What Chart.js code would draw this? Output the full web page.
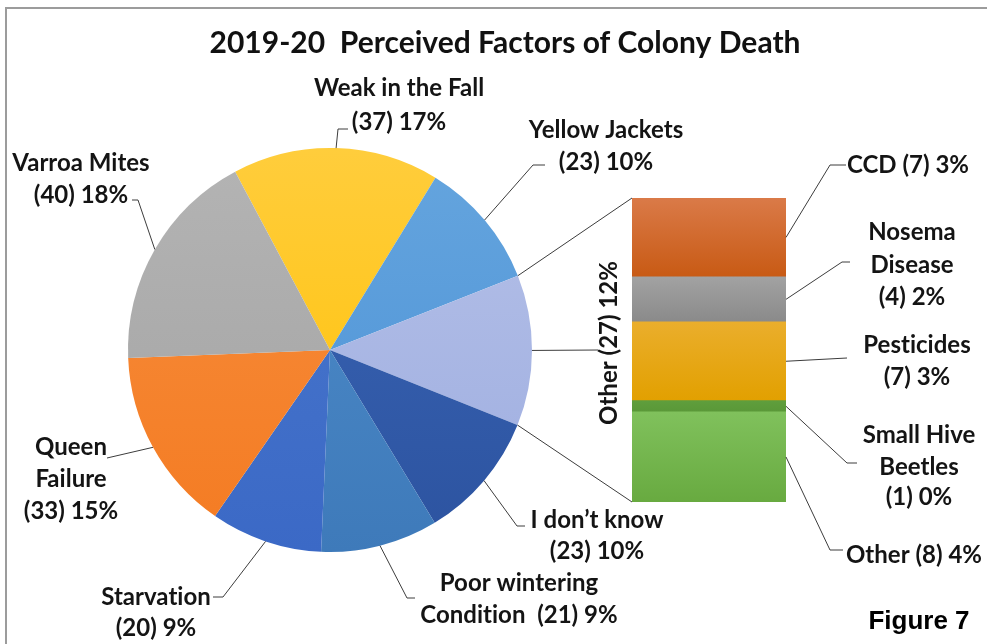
<!DOCTYPE html>
<html>
<head>
<meta charset="utf-8">
<title>2019-20 Perceived Factors of Colony Death</title>
<script src="https://cdn.jsdelivr.net/npm/chart.js@4"></script>
<style>
  html, body { margin: 0; padding: 0; background: #fff; }
  #wrap { position: relative; width: 987px; height: 644px; overflow: hidden; }
  #wrap canvas { position: absolute; left: 0; top: 0; }
</style>
</head>
<body>
<div id="wrap">
  <canvas id="pieChart" width="987" height="644"></canvas>
  <canvas id="barChart" width="987" height="644"></canvas>
</div>
<script>
// Pie slices, clockwise starting with "Weak in the Fall"
const pieNames = [['Weak in the Fall'], ['Yellow Jackets'], ['Other'], ['I don\u2019t know'],
  ['Poor wintering', 'Condition'], ['Starvation'], ['Queen', 'Failure'], ['Varroa Mites']];
const pieCounts = [37, 23, 27, 23, 21, 20, 33, 40];

// The "Other" slice split out into the stacked bar, bottom to top
const barNames = [['Other'], ['Small Hive', 'Beetles'], ['Pesticides'], ['Nosema', 'Disease'], ['CCD']];
const barCounts = [8, 1, 7, 4, 7];

const TITLE = '2019-20  Perceived Factors of Colony Death';
const FIGURE = 'Figure 7';

const total = pieCounts.reduce((a, b) => a + b, 0);

// colours: [top of gradient, bottom of gradient]
const pieColors = [
  ['#ffcd3c', '#ffc000'], ['#65a5de', '#4b91d6'], ['#b6c1e8', '#9dade0'], ['#3b66b6', '#2c53a0'],
  ['#4f8dca', '#3e7aba'], ['#4a78cc', '#3b69c6'], ['#f78e3e', '#f47b22'], ['#b4b4b4', '#a2a2a2']
];
const barColors = [
  ['#80c15c', '#68aa40'], ['#5f9e3c', '#5a9838'], ['#eaae2c', '#e2a000'], ['#a2a2a2', '#8a8a8a'], ['#da7a48', '#c85a14']
];

// where each label sits and how its leader line bends (pixels)
const pieLabelLayout = [
  { x: 399, y: [88, 122], path: [[338, 129], [348, 129]] },
  { x: 606, y: [130, 162], path: [[533, 165], [545, 165]] },
  { x: 609, y: [343], rotate: true, sep: ' ', path: [[598, 350]] },
  { x: 597, y: [520, 551], path: [[517, 526], [525, 526]] },
  { x: 519, y: [583, 615], sep: '  ', path: [[407, 598], [415, 598]] },
  { x: 156, y: [597, 628], path: [[223, 597], [213, 597]] },
  { x: 71, y: [447, 479, 511], path: [[107, 458]] },
  { x: 81, y: [163, 195], path: [[138, 200], [132, 200]] }
];
const barLabelLayout = [
  { x: 914, y: [555], sep: ' ', path: [[830, 550], [843, 550]] },
  { x: 919, y: [435, 467, 497], path: [[847, 463], [857, 463]] },
  { x: 917, y: [345, 377], path: [[847, 358]] },
  { x: 912, y: [232, 265, 297], path: [[842, 262], [850, 262]] },
  { x: 908, y: [165], sep: ' ', path: [[830, 165], [846, 165]] }
];

const LABEL_FONT = 'bold 24px Lato';
const TEXT_COLOR = '#141414';
const LINE_COLOR = '#3c3c3c';

function valueText(n) {
  return '(' + n + ') ' + Math.round(n / total * 100) + '%';
}

// build the printed lines: name lines + value, either on its own line or joined to the last
function labelLines(names, n, layout) {
  const lines = names.slice();
  if (layout.sep) {
    lines[lines.length - 1] += layout.sep + valueText(n);
  } else {
    lines.push(valueText(n));
  }
  return lines;
}

function pieFill(ctx) {
  const c = pieColors[ctx.dataIndex];
  const area = ctx.chart.chartArea;
  if (!area) return c[1];
  const g = ctx.chart.ctx.createLinearGradient(0, area.top, 0, area.bottom);
  g.addColorStop(0, c[0]);
  g.addColorStop(1, c[1]);
  return g;
}

function barFill(ctx) {
  const i = ctx.datasetIndex;
  const c = barColors[i];
  const y = ctx.chart.scales && ctx.chart.scales.y;
  if (!y || !ctx.chart.chartArea) return c[1];
  const below = barCounts.slice(0, i).reduce((a, b) => a + b, 0);
  const g = ctx.chart.ctx.createLinearGradient(0, y.getPixelForValue(below + barCounts[i]), 0, y.getPixelForValue(below));
  g.addColorStop(0, c[0]);
  g.addColorStop(1, c[1]);
  return g;
}

const pieChart = new Chart(document.getElementById('pieChart'), {
  type: 'pie',
  data: {
    labels: pieNames.map(n => n.join(' ')),
    datasets: [{
      data: pieCounts,
      backgroundColor: pieFill,
      borderWidth: 0
    }]
  },
  options: {
    responsive: false,
    devicePixelRatio: 1,
    animation: false,
    events: [],
    rotation: -28,
    layout: { padding: { left: 128, right: 455, top: 148, bottom: 92 } },
    plugins: { legend: { display: false }, tooltip: { enabled: false } }
  }
});

function drawPath(ctx, pts) {
  ctx.beginPath();
  ctx.moveTo(pts[0][0], pts[0][1]);
  for (let k = 1; k < pts.length; k++) ctx.lineTo(pts[k][0], pts[k][1]);
  ctx.stroke();
}

function drawLines(ctx, lines, layout) {
  ctx.fillStyle = TEXT_COLOR;
  ctx.font = LABEL_FONT;
  ctx.letterSpacing = '0.01px'; // keeps Lato from joining "ti"
  ctx.textAlign = 'center';
  ctx.textBaseline = 'middle';
  if (layout.rotate) {
    ctx.save();
    ctx.translate(layout.x, layout.y[0]);
    ctx.rotate(-Math.PI / 2);
    ctx.fillText(lines.join(' '), 0, 0);
    ctx.restore();
    return;
  }
  lines.forEach((t, k) => ctx.fillText(t, layout.x, layout.y[k]));
}

// labels, leader lines, connectors, title and frame are drawn over both charts
const overlayPlugin = {
  id: 'overlay',
  afterDraw(chart) {
    const ctx = chart.ctx;
    const arcs = pieChart.getDatasetMeta(0).data;
    ctx.save();

    // frame (top and left edges only)
    ctx.strokeStyle = '#9c9c9c';
    ctx.lineWidth = 2;
    ctx.beginPath();
    ctx.moveTo(987, 8);
    ctx.lineTo(6, 8);
    ctx.lineTo(6, 644);
    ctx.stroke();

    // connectors from the "Other" slice to the bar
    const other = arcs[2].getProps(['x', 'y', 'startAngle', 'endAngle', 'outerRadius']);
    const topBar = chart.getDatasetMeta(barCounts.length - 1).data[0].getProps(['x', 'y', 'width']);
    const bottomBar = chart.getDatasetMeta(0).data[0].getProps(['x', 'y', 'base', 'width']);
    ctx.strokeStyle = LINE_COLOR;
    ctx.lineWidth = 1;
    drawPath(ctx, [
      [other.x + Math.cos(other.startAngle) * other.outerRadius, other.y + Math.sin(other.startAngle) * other.outerRadius],
      [topBar.x - topBar.width / 2, topBar.y]
    ]);
    drawPath(ctx, [
      [other.x + Math.cos(other.endAngle) * other.outerRadius, other.y + Math.sin(other.endAngle) * other.outerRadius],
      [bottomBar.x - bottomBar.width / 2, bottomBar.base]
    ]);

    // pie labels
    arcs.forEach((arc, i) => {
      const p = arc.getProps(['x', 'y', 'startAngle', 'endAngle', 'outerRadius']);
      const mid = (p.startAngle + p.endAngle) / 2;
      const anchor = [p.x + Math.cos(mid) * p.outerRadius, p.y + Math.sin(mid) * p.outerRadius];
      const layout = pieLabelLayout[i];
      ctx.strokeStyle = LINE_COLOR;
      ctx.lineWidth = 1;
      drawPath(ctx, [anchor].concat(layout.path));
      drawLines(ctx, labelLines(pieNames[i], pieCounts[i], layout), layout);
    });

    // bar labels
    barCounts.forEach((n, i) => {
      const b = chart.getDatasetMeta(i).data[0].getProps(['x', 'y', 'base', 'width']);
      const anchor = [b.x + b.width / 2, (b.y + b.base) / 2];
      const layout = barLabelLayout[i];
      ctx.strokeStyle = LINE_COLOR;
      ctx.lineWidth = 1;
      drawPath(ctx, [anchor].concat(layout.path));
      drawLines(ctx, labelLines(barNames[i], n, layout), layout);
    });

    // title
    ctx.fillStyle = '#111';
    ctx.font = 'bold 30px Lato';
    ctx.textAlign = 'center';
    ctx.textBaseline = 'middle';
    ctx.fillText(TITLE, 505, 43);

    ctx.letterSpacing = '0px';
    ctx.font = 'bold 26px "Liberation Sans"';
    ctx.fillStyle = '#000';
    ctx.fillText(FIGURE, 919, 622);

    ctx.restore();
  }
};

const barChart = new Chart(document.getElementById('barChart'), {
  type: 'bar',
  data: {
    labels: ['Other'],
    datasets: barCounts.map((n, i) => ({
      label: barNames[i].join(' '),
      data: [n],
      backgroundColor: barFill,
      borderWidth: 0,
      barPercentage: 1,
      categoryPercentage: 1
    }))
  },
  options: {
    responsive: false,
    devicePixelRatio: 1,
    animation: false,
    events: [],
    layout: { padding: { left: 632, right: 201, top: 198, bottom: 142 } },
    scales: {
      x: { stacked: true, display: false },
      y: { stacked: true, display: false, min: 0, max: 27 }
    },
    plugins: { legend: { display: false }, tooltip: { enabled: false } }
  },
  plugins: [overlayPlugin]
});
</script>
</body>
</html>
